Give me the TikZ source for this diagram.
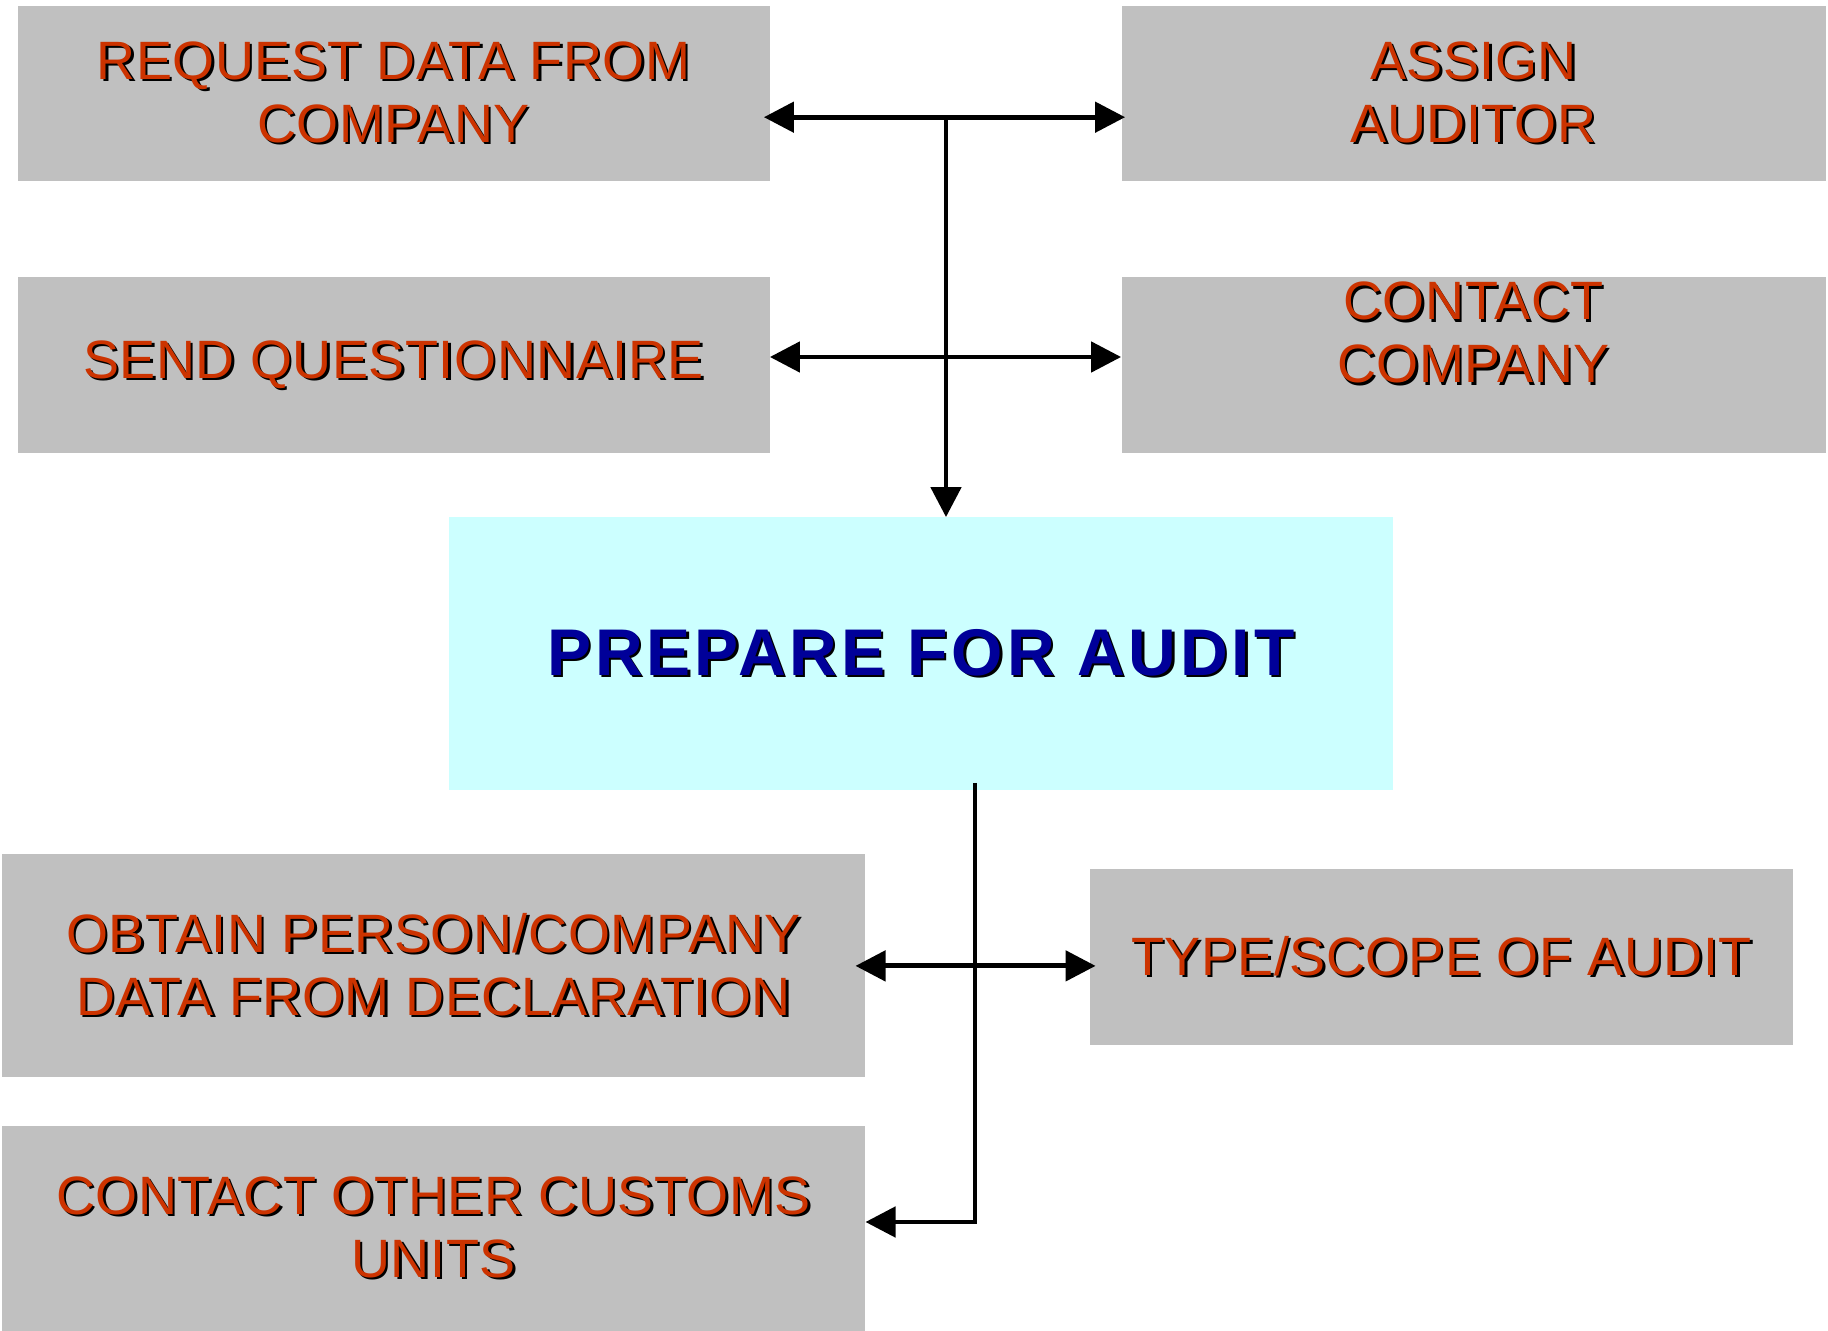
\documentclass[tikz,border=0pt]{standalone}
\usepackage{fontspec}
\setmainfont{Liberation Sans}
\usetikzlibrary{arrows.meta}
\definecolor{boxgray}{HTML}{C0C0C0}
\definecolor{auditcyan}{HTML}{CCFFFF}
\definecolor{auditred}{HTML}{CC3300}
\definecolor{auditblue}{HTML}{000099}
\newcommand{\sdw}[1]{\leavevmode\rlap{\kern1.2pt\raisebox{-1.2pt}{\color{black}#1}}#1}
\tikzset{
  greybox/.style={fill=boxgray, inner sep=0pt, align=center, text=auditred,
    font=\fontsize{27}{31.5}\selectfont\addfontfeature{LetterSpace=1}},
  mainbox/.style={fill=auditcyan, inner sep=0pt, align=center, text=auditblue,
    font=\fontsize{33}{40}\selectfont\bfseries\addfontfeature{LetterSpace=6}},
  link/.style={line width=2.4pt},
}

\begin{document}
\begin{tikzpicture}[x=0.5pt,y=-0.5pt,>={Triangle[length=15pt,width=15pt]}]
  \useasboundingbox (0,0) rectangle (1828,1331);

  % upper row of tasks
  \node[greybox,minimum width=376pt,minimum height=87.5pt] (request) at (393.5,93.2) {\sdw{REQUEST DATA FROM}\\\sdw{COMPANY}};
  \node[greybox,minimum width=352pt,minimum height=87.5pt] (assign) at (1473.5,93.2) {\sdw{ASSIGN}\\\sdw{AUDITOR}};
  \node[greybox,minimum width=376pt,minimum height=88pt] (send) at (393.5,365.5) {\sdw{SEND QUESTIONNAIRE}};
  \node[greybox,minimum width=352pt,minimum height=88pt,text depth=33pt] (contact) at (1473.5,365.5) {\sdw{CONTACT}\\\sdw{COMPANY}};

  \node[mainbox,minimum width=472pt,minimum height=136.5pt] (prepare) at (921,654) {\sdw{PREPARE FOR AUDIT}};

  % lower row of tasks
  \node[greybox,minimum width=431.5pt,minimum height=111.5pt] (obtain) at (433.6,965.9) {\sdw{OBTAIN PERSON/COMPANY}\\\sdw{DATA FROM DECLARATION}};
  \node[greybox,minimum width=351.5pt,minimum height=87.5pt] (type) at (1441.5,957) {\sdw{TYPE/SCOPE OF AUDIT}};
  \node[greybox,minimum width=431.5pt,minimum height=102.5pt] (customs) at (433.6,1228.5) {\sdw{CONTACT OTHER CUSTOMS}\\\sdw{UNITS}};

  \coordinate (hub) at (946,117);
  \draw[link,<->] ([xshift=-3pt,yshift=-12pt]request.east) -- ([xshift=2pt,yshift=-12pt]assign.west);
  \draw[link,<->] ([yshift=4.25pt]send.east) -- ([yshift=4.25pt]contact.west);
  \draw[link,->] (hub) -- (hub |- prepare.north);

  \coordinate (split) at (975,783);
  \draw[link,<->] ([xshift=-5pt]obtain.east) -- ([xshift=3pt]type.west |- obtain.east);
  \draw[link,->] (split) |- ([yshift=3.25pt]customs.east);
\end{tikzpicture}
\end{document}
